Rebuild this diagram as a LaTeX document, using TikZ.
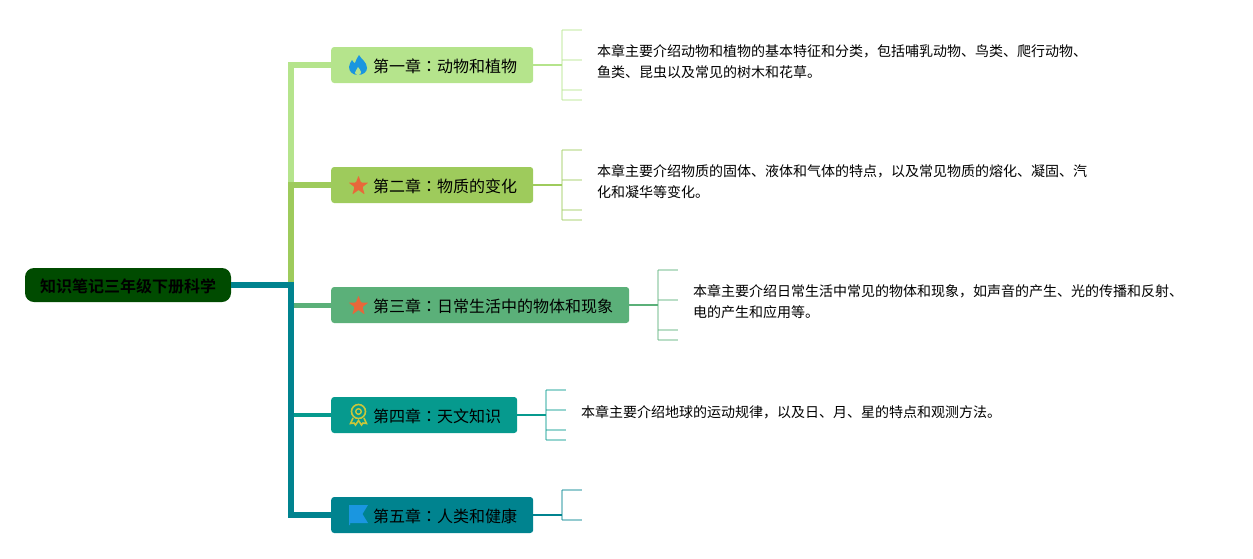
\documentclass[tikz,border=0pt]{standalone}
\usepackage{fontspec}
\setmainfont{Noto Sans CJK SC}
\newfontfamily\boldcjk{Noto Sans CJK SC Bold}
\newfontfamily\tcjk{Noto Sans CJK TC}
\newcommand{\cln}{{\tcjk：}}
\definecolor{cA}{HTML}{B5E48C}
\definecolor{cB}{HTML}{9ECB5C}
\definecolor{cC}{HTML}{5BB079}
\definecolor{cD}{HTML}{069A8E}
\definecolor{cE}{HTML}{00838F}
\definecolor{rootc}{HTML}{004B00}
\definecolor{iconblue}{HTML}{1A96E0}
\definecolor{iconorange}{HTML}{E8683A}
\definecolor{iconyellow}{HTML}{C9C63A}
\tikzset{
 x=1pt,y=-1pt,
 rootbox/.style={fill=rootc,rounded corners=9pt,minimum width=206pt,minimum height=34pt,inner sep=0pt},
 chap/.style={rounded corners=3pt,minimum height=36pt,inner sep=0pt,anchor=west},
 chaptext/.style={anchor=west,inner sep=0pt,font=\fontsize{16}{16}\selectfont},
 bodytext/.style={anchor=west,inner sep=0pt,align=left,font=\fontsize{14}{21}\selectfont},
 trunk/.style={line width=6pt},
 stem/.style={line width=2pt},
 leaf/.style={line width=1.8pt,opacity=.42},
}
\newcommand{\bracket}[4]{% node, colour, bracket x, list of y
  \coordinate (b#1) at (#3,0);
  \draw[stem,#2] (#1.east) -- (#1.east -| b#1);
  \foreach \yy [count=\i] in {#4}{
    \coordinate (l#1\i) at (#3,\yy);
    \coordinate (e#1\i) at (#3+20,\yy);
    \draw[leaf,#2] (l#1\i) -- (e#1\i);
  }
}
\begin{document}
\begin{tikzpicture}
\useasboundingbox (0,0) rectangle (1253,558);
\node[rootbox] (root) at (128,285) {};
\node[chap,fill=cA,minimum width=202pt] (n1) at (331,65) {};
\node[chap,fill=cB,minimum width=202pt] (n2) at (331,185) {};
\node[chap,fill=cC,minimum width=298pt] (n3) at (331,305) {};
\node[chap,fill=cD,minimum width=186pt] (n4) at (331,415) {};
\node[chap,fill=cE,minimum width=202pt] (n5) at (331,515) {};
\coordinate (j) at (291,285);
% trunk
\draw[trunk,cA] (n1.west) -- (n1.west -| j) -- (n2.west -| j);
\draw[trunk,cB] (n2.west) -- (n2.west -| j) -- ([yshift=3pt]j);
\draw[trunk,cE] (root.east) -- ([xshift=3pt]j);
\draw[trunk,cE] ([yshift=3pt]j) -- (n5.west -| j) -- (n5.west);
\draw[line width=5pt,cC] ([xshift=3pt]n3.west -| j) -- (n3.west);
\draw[line width=4pt,cD] ([xshift=3pt]n4.west -| j) -- (n4.west);
% brackets
\bracket{n1}{cA}{562}{30,60,90,100}
\draw[leaf,cA] (ln11) -- (ln14);
\bracket{n2}{cB}{562}{150,180,210,220}
\draw[leaf,cB] (ln21) -- (ln24);
\bracket{n3}{cC}{658}{270,300,330,340}
\draw[leaf,cC] (ln31) -- (ln34);
\bracket{n4}{cD}{546}{390,410,430,440}
\draw[leaf,cD] (ln41) -- (ln44);
\bracket{n5}{cE}{562}{490,520}
\draw[leaf,cE] (ln51) -- (ln52);
% texts
\node[inner sep=0pt,font=\boldcjk\fontsize{16}{16}\selectfont] (roott) at (128,286) {知识笔记三年级下册科学};
\node[chaptext] (t1) at (373,66) {第一章\cln 动物和植物};
\node[chaptext] (t2) at (373,186) {第二章\cln 物质的变化};
\node[chaptext] (t3) at (373,306) {第三章\cln 日常生活中的物体和现象};
\node[chaptext] (t4) at (373,416) {第四章\cln 天文知识};
\node[chaptext] (t5) at (373,516) {第五章\cln 人类和健康};
\node[bodytext] (d1) at (597,62) {本章主要介绍动物和植物的基本特征和分类，包括哺乳动物、鸟类、爬行动物、\\鱼类、昆虫以及常见的树木和花草。};
\node[bodytext] (d2) at (597,182) {本章主要介绍物质的固体、液体和气体的特点，以及常见物质的熔化、凝固、汽\\化和凝华等变化。};
\node[bodytext] (d3) at (693,302) {本章主要介绍日常生活中常见的物体和现象，如声音的产生、光的传播和反射、\\电的产生和应用等。};
\node[bodytext] (d4) at (581,412) {本章主要介绍地球的运动规律，以及日、月、星的特点和观测方法。};
% icons
\fill[iconblue] (359,55) .. controls (361,59) and (367,62) .. (367,68) .. controls (367,72) and (363,75) .. (358,75) .. controls (353,75) and (349,72) .. (349,67) .. controls (349,64) and (351,62) .. (352,60) .. controls (353,62) and (354,63) .. (355,63) .. controls (356,60) and (357,58) .. (359,55) -- cycle;
\fill[cA] (358,67) .. controls (359,69) and (361,70) .. (361,72) .. controls (361,74) and (360,75) .. (358,75) .. controls (356,75) and (355,74) .. (355,72.5) .. controls (355,71) and (357,70) .. (358,67) -- cycle;
\foreach \cy in {185.5,305.5}{
  \fill[iconorange,rounded corners=0.8pt] (358.5,\cy-10) -- (361,\cy-3) -- (368.5,\cy-3) -- (362.5,\cy+1.5) -- (364.7,\cy+9) -- (358.5,\cy+4.5) -- (352.3,\cy+9) -- (354.5,\cy+1.5) -- (348.5,\cy-3) -- (356,\cy-3) -- cycle;
}
\draw[iconyellow,line width=1.6pt,fill=cD] (353,418) -- (350.5,423.5) -- (354,423) -- (355.5,425) -- (358.5,420.5) -- (361.5,425) -- (363,423) -- (366.5,423.5) -- (364,418);
\draw[iconyellow,line width=1.6pt,fill=cD] (358.5,411.5) circle[radius=7pt];
\draw[iconyellow,line width=1.4pt] (358.5,411.5) circle[radius=2.8pt];
\fill[iconblue] (349,505) -- (368,505) -- (362.5,514) -- (368,523) -- (350,523) -- (350,525) -- (349,525) -- cycle;
\end{tikzpicture}
\end{document}
